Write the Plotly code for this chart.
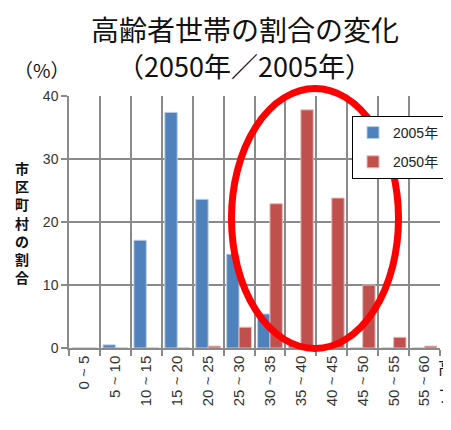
import plotly.graph_objects as go

categories = ["0 ~ 5", "5 ~ 10", "10 ~ 15", "15 ~ 20", "20 ~ 25", "25 ~ 30",
              "30 ~ 35", "35 ~ 40", "40 ~ 45", "45 ~ 50", "50 ~ 55", "55 ~ 60"]
values_2005 = [0, 0.5, 17.1, 37.4, 23.6, 14.9, 5.4, 0.4, 0, 0, 0, 0]
values_2050 = [0, 0, 0, 0, 0.3, 3.3, 22.9, 37.8, 23.8, 10.0, 1.7, 0.3]
series_names = ["2005年", "2050年"]
y_ticks = [0, 10, 20, 30, 40]

FONT = "Noto Sans CJK JP"
TICKFONT = "Liberation Sans, Noto Sans CJK JP"
GRID = "#8a8a8a"

OFF = 8  # page body margin
W, H = 451 - OFF, 430 - OFF
L, R, T, B = 69, 440, 96, 348  # plot area in page pixels
PW, PH = R - L, B - T


def px(x):
    return (x - L) / PW


def py(y):
    return (B - y) / PH


fig = go.Figure()
fig.add_trace(go.Bar(x=categories, y=values_2005, name=series_names[0], legendgroup="a",
                     marker=dict(color="#4F81BD", line=dict(color="#B9CDE5", width=1))))
fig.add_trace(go.Bar(x=categories, y=values_2050, name=series_names[1], legendgroup="b",
                     marker=dict(color="#C0504D", line=dict(color="#E6B9B8", width=1))))

fig.update_layout(
    width=W, height=H,
    margin=dict(l=L - OFF, r=W - (R - OFF), t=T - OFF, b=H - (B - OFF), pad=0,
                autoexpand=False),
    paper_bgcolor="white", plot_bgcolor="white",
    font=dict(family=FONT, color="#333333"),
    barmode="group", bargap=0.2, bargroupgap=0.0,
    showlegend=True,
    legend=dict(x=px(352), y=py(116), xanchor="left", yanchor="top",
                bgcolor="white", bordercolor="black", borderwidth=1,
                font=dict(size=14, color="#222222", family=TICKFONT), itemwidth=30,
                traceorder="grouped", tracegroupgap=8),
    xaxis=dict(type="category", tickson="boundaries", showgrid=True,
               gridcolor=GRID, gridwidth=1.5, ticks="outside", ticklen=6,
               tickcolor=GRID, tickwidth=1.5, tickangle=-90, automargin=False,
               tickfont=dict(size=15, color="#333333", family=TICKFONT),
               showline=True, linecolor=GRID, linewidth=1.5,
               range=[-0.5, 11.5]),
    yaxis=dict(range=[0, 40], tickvals=y_ticks, showgrid=True, automargin=False,
               gridcolor=GRID, gridwidth=1.5, ticks="outside", ticklen=6,
               tickcolor=GRID, tickwidth=1.5, showline=True, linecolor=GRID,
               linewidth=1.5, zeroline=False,
               tickfont=dict(size=14, color="#333333", family=TICKFONT)),
)

fig.add_annotation(text="高齢者世帯の割合の変化", xref="paper", yref="paper",
                   x=px(245), y=py(29), showarrow=False,
                   xanchor="center", yanchor="middle",
                   font=dict(size=28, color="#111111", family=FONT))
fig.add_annotation(text="（2050年／2005年）", xref="paper", yref="paper",
                   x=px(244), y=py(66), showarrow=False,
                   xanchor="center", yanchor="middle",
                   font=dict(size=27, color="#111111", family=FONT))

fig.add_annotation(text="（%）", xref="paper", yref="paper",
                   x=px(42), y=py(70), showarrow=False,
                   xanchor="center", yanchor="middle",
                   font=dict(size=19, color="#111111", family=FONT))

fig.add_annotation(text="<b>" + "<br>".join("市区町村の割合") + "</b>",
                   xref="paper", yref="paper",
                   x=px(22), y=py(222), showarrow=False,
                   xanchor="center", yanchor="middle",
                   font=dict(size=14, color="#111111", family=FONT))

for ch, yy in (("高", 366), ("ア", 394)):
    fig.add_annotation(text=ch, xref="paper", yref="paper",
                       x=px(436), y=py(yy), showarrow=False,
                       xanchor="left", yanchor="middle",
                       font=dict(size=17, color="#111111", family=FONT))

fig.add_shape(type="circle", xref="paper", yref="paper",
              x0=px(231.5), x1=px(398.5),
              y0=py(348.5), y1=py(88.5),
              line=dict(color="#FF0000", width=7), layer="above")

fig.write_html("out.html")
